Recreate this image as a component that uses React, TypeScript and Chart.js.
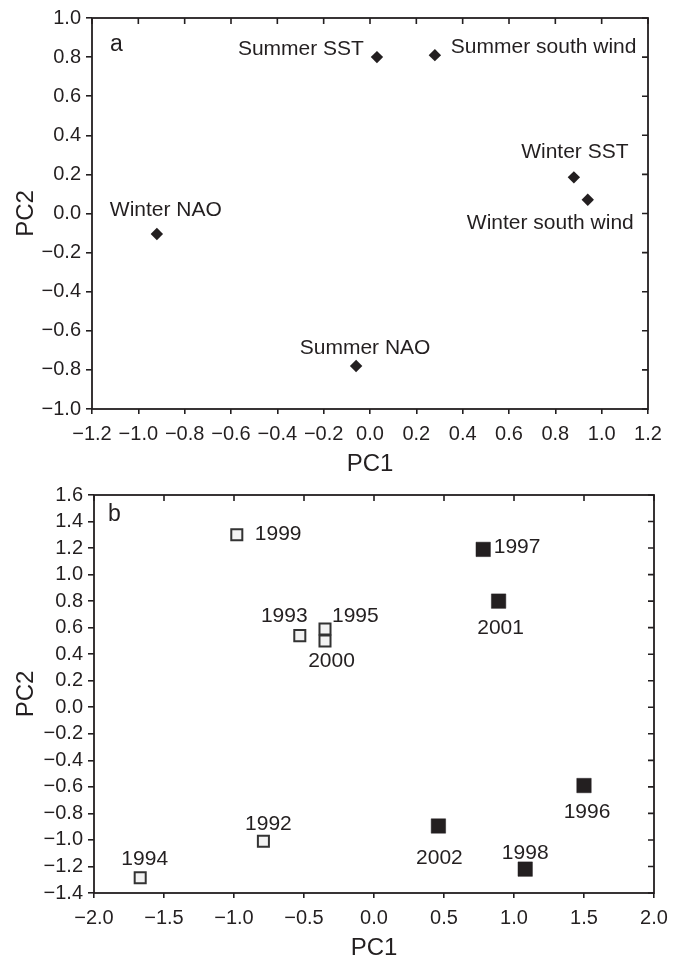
import React, { useEffect, useRef } from 'react';
import { Chart, registerables } from 'chart.js';

Chart.register(...registerables);

// ---------- Data: panel a (variables) ----------
const variableNames = ['Summer SST', 'Summer south wind', 'Winter SST', 'Winter south wind', 'Winter NAO', 'Summer NAO'];
const variablePC1 = [0.03, 0.28, 0.88, 0.94, -0.92, -0.06];
const variablePC2 = [0.80, 0.81, 0.185, 0.07, -0.105, -0.78];

// ---------- Data: panel b (years) ----------
const openYears = ['1992', '1993', '1994', '1995', '1999', '2000'];
const openPC1 = [-0.79, -0.53, -1.67, -0.35, -0.98, -0.35];
const openPC2 = [-1.01, 0.54, -1.285, 0.59, 1.30, 0.50];

const filledYears = ['1996', '1997', '1998', '2001', '2002'];
const filledPC1 = [1.50, 0.78, 1.08, 0.89, 0.46];
const filledPC2 = [-0.59, 1.19, -1.22, 0.80, -0.895];

// ---------- Tick values ----------
const ticksAX = [-1.2, -1.0, -0.8, -0.6, -0.4, -0.2, 0.0, 0.2, 0.4, 0.6, 0.8, 1.0, 1.2];
const ticksAY = [-1.0, -0.8, -0.6, -0.4, -0.2, 0.0, 0.2, 0.4, 0.6, 0.8, 1.0];
const ticksBX = [-2.0, -1.5, -1.0, -0.5, 0.0, 0.5, 1.0, 1.5, 2.0];
const ticksBY = [-1.4, -1.2, -1.0, -0.8, -0.6, -0.4, -0.2, 0.0, 0.2, 0.4, 0.6, 0.8, 1.0, 1.2, 1.4, 1.6];

// ---------- Label layout (pixel offsets from each marker) ----------
type LabelPos = { dx: number; dy: number; align: CanvasTextAlign };
const variableLabelLayout: LabelPos[] = [
  { dx: -13, dy: -8, align: 'right' },
  { dx: 16, dy: -8, align: 'left' },
  { dx: 1, dy: -25, align: 'center' },
  { dx: 46, dy: 23, align: 'right' },
  { dx: 9, dy: -24, align: 'center' },
  { dx: 9, dy: -18, align: 'center' },
];
const openLabelLayout: LabelPos[] = [
  { dx: 5, dy: -17.5, align: 'center' },
  { dx: -15.5, dy: -19, align: 'center' },
  { dx: 4.5, dy: -18.5, align: 'center' },
  { dx: 7, dy: -12.5, align: 'left' },
  { dx: 18, dy: -1, align: 'left' },
  { dx: 6.5, dy: 20, align: 'center' },
];
const filledLabelLayout: LabelPos[] = [
  { dx: 3, dy: 27, align: 'center' },
  { dx: 10.5, dy: -2.5, align: 'left' },
  { dx: 0, dy: -16, align: 'center' },
  { dx: 2, dy: 27, align: 'center' },
  { dx: 1, dy: 32.5, align: 'center' },
];

const INK = '#231f20';
const FONT = '"Liberation Sans", Arial, Helvetica, sans-serif';

const fmt = (v: number | string) => Number(v).toFixed(1).replace('-', '\u2212');

type LabelSet = { datasetIndex: number; texts: string[]; layout: LabelPos[] };

function framePlugin(letter: string, letterDx: number, letterDy: number, labelSets: LabelSet[]) {
  return {
    id: 'frameAndLabels',
    afterDraw(chart: any) {
      const { ctx, chartArea } = chart;
      const { left, right, top, bottom } = chartArea;
      const xs = chart.scales.x;
      const ys = chart.scales.y;
      ctx.save();
      ctx.strokeStyle = INK;
      ctx.lineWidth = 1.8;
      ctx.strokeRect(left, top, right - left, bottom - top);
      ctx.lineWidth = 1.6;
      ctx.beginPath();
      xs.ticks.forEach((t: any) => {
        const px = xs.getPixelForValue(t.value);
        ctx.moveTo(px, top);
        ctx.lineTo(px, top + 6);
      });
      ys.ticks.forEach((t: any) => {
        const py = ys.getPixelForValue(t.value);
        ctx.moveTo(right, py);
        ctx.lineTo(right - 6, py);
      });
      ctx.stroke();

      ctx.fillStyle = INK;
      ctx.font = `21px ${FONT}`;
      ctx.textBaseline = 'middle';
      labelSets.forEach(({ datasetIndex, texts, layout }) => {
        const meta = chart.getDatasetMeta(datasetIndex);
        meta.data.forEach((el: any, i: number) => {
          const L = layout[i];
          ctx.textAlign = L.align;
          ctx.fillText(texts[i], el.x + L.dx, el.y + L.dy);
        });
      });

      ctx.font = `23px ${FONT}`;
      ctx.textAlign = 'left';
      ctx.textBaseline = 'alphabetic';
      ctx.fillText(letter, left + letterDx, top + letterDy);
      ctx.restore();
    },
  };
}

type AxisSpec = {
  min: number;
  max: number;
  ticks: number[];
};

function buildScales(xs: AxisSpec, ys: AxisSpec, xHeight: number, yWidth: number, xTitleLH: number, xTitlePad: number) {
  return {
    x: {
      type: 'linear',
      position: 'bottom',
      min: xs.min,
      max: xs.max,
      afterBuildTicks: (s: any) => {
        s.ticks = xs.ticks.map((v) => ({ value: v }));
      },
      afterFit: (s: any) => {
        s.height = xHeight;
      },
      ticks: {
        autoSkip: false,
        maxRotation: 0,
        minRotation: 0,
        padding: 8,
        color: INK,
        font: { family: FONT, size: 20 },
        callback: (v: any) => fmt(v),
      },
      grid: { display: true, drawOnChartArea: false, drawTicks: true, tickLength: 5, color: INK, lineWidth: 1.6 },
      border: { display: false },
      title: {
        display: true,
        text: 'PC1',
        color: INK,
        font: { family: FONT, size: 24, lineHeight: xTitleLH },
        padding: { top: 0, bottom: xTitlePad },
      },
    },
    y: {
      type: 'linear',
      position: 'left',
      min: ys.min,
      max: ys.max,
      afterBuildTicks: (s: any) => {
        s.ticks = ys.ticks.map((v) => ({ value: v }));
      },
      afterFit: (s: any) => {
        s.width = yWidth;
      },
      ticks: {
        autoSkip: false,
        padding: 5,
        color: INK,
        font: { family: FONT, size: 20 },
        callback: (v: any) => fmt(v),
      },
      grid: { display: true, drawOnChartArea: false, drawTicks: true, tickLength: 6, color: INK, lineWidth: 1.6 },
      border: { display: false },
      title: {
        display: true,
        text: 'PC2',
        color: INK,
        font: { family: FONT, size: 24, lineHeight: 1.2 },
        padding: { top: 12, bottom: 0 },
      },
    },
  };
}

export default function App() {
  const refA = useRef<HTMLCanvasElement>(null);
  const refB = useRef<HTMLCanvasElement>(null);

  useEffect(() => {
    const common = {
      animation: false,
      responsive: false,
      devicePixelRatio: 1,
      events: [],
    };

    const chartA = new Chart(refA.current as HTMLCanvasElement, {
      type: 'scatter',
      data: {
        datasets: [
          {
            data: variablePC1.map((x, i) => ({ x, y: variablePC2[i] })),
            pointStyle: 'rectRot',
            pointRadius: 6.2,
            backgroundColor: INK,
            borderColor: INK,
            borderWidth: 0,
          },
        ],
      },
      options: {
        ...common,
        layout: { padding: { left: 0, top: 18, right: 33, bottom: 0 } },
        plugins: { legend: { display: false }, tooltip: { enabled: false } },
        scales: buildScales(
          { min: -1.2, max: 1.2, ticks: ticksAX },
          { min: -1.0, max: 1.0, ticks: ticksAY },
          69,
          92,
          1.1,
          0
        ),
      } as any,
      plugins: [framePlugin('a', 18, 33, [{ datasetIndex: 0, texts: variableNames, layout: variableLabelLayout }])],
    } as any);

    const chartB = new Chart(refB.current as HTMLCanvasElement, {
      type: 'scatter',
      data: {
        datasets: [
          {
            data: openPC1.map((x, i) => ({ x, y: openPC2[i] })),
            pointStyle: 'rect',
            pointRadius: 7.8,
            backgroundColor: '#f3f3f3',
            borderColor: '#333333',
            borderWidth: 2,
          },
          {
            data: filledPC1.map((x, i) => ({ x, y: filledPC2[i] })),
            pointStyle: 'rect',
            pointRadius: 10.2,
            backgroundColor: INK,
            borderColor: INK,
            borderWidth: 0.5,
          },
        ],
      },
      options: {
        ...common,
        layout: { padding: { left: 0, top: 14, right: 27, bottom: 0 } },
        plugins: { legend: { display: false }, tooltip: { enabled: false } },
        scales: buildScales(
          { min: -2.0, max: 2.0, ticks: ticksBX },
          { min: -1.4, max: 1.6, ticks: ticksBY },
          65,
          94,
          0.8,
          0
        ),
      } as any,
      plugins: [
        framePlugin('b', 14, 26, [
          { datasetIndex: 0, texts: openYears, layout: openLabelLayout },
          { datasetIndex: 1, texts: filledYears, layout: filledLabelLayout },
        ]),
      ],
    } as any);

    return () => {
      chartA.destroy();
      chartB.destroy();
    };
  }, []);

  return (
    <div style={{ position: 'absolute', left: 0, top: 0, width: 681, height: 958, background: '#fff' }}>
      <canvas
        ref={refA}
        width={681}
        height={478}
        style={{ position: 'absolute', left: 0, top: 0, width: 681, height: 478 }}
      />
      <canvas
        ref={refB}
        width={681}
        height={480}
        style={{ position: 'absolute', left: 0, top: 478, width: 681, height: 480 }}
      />
    </div>
  );
}
